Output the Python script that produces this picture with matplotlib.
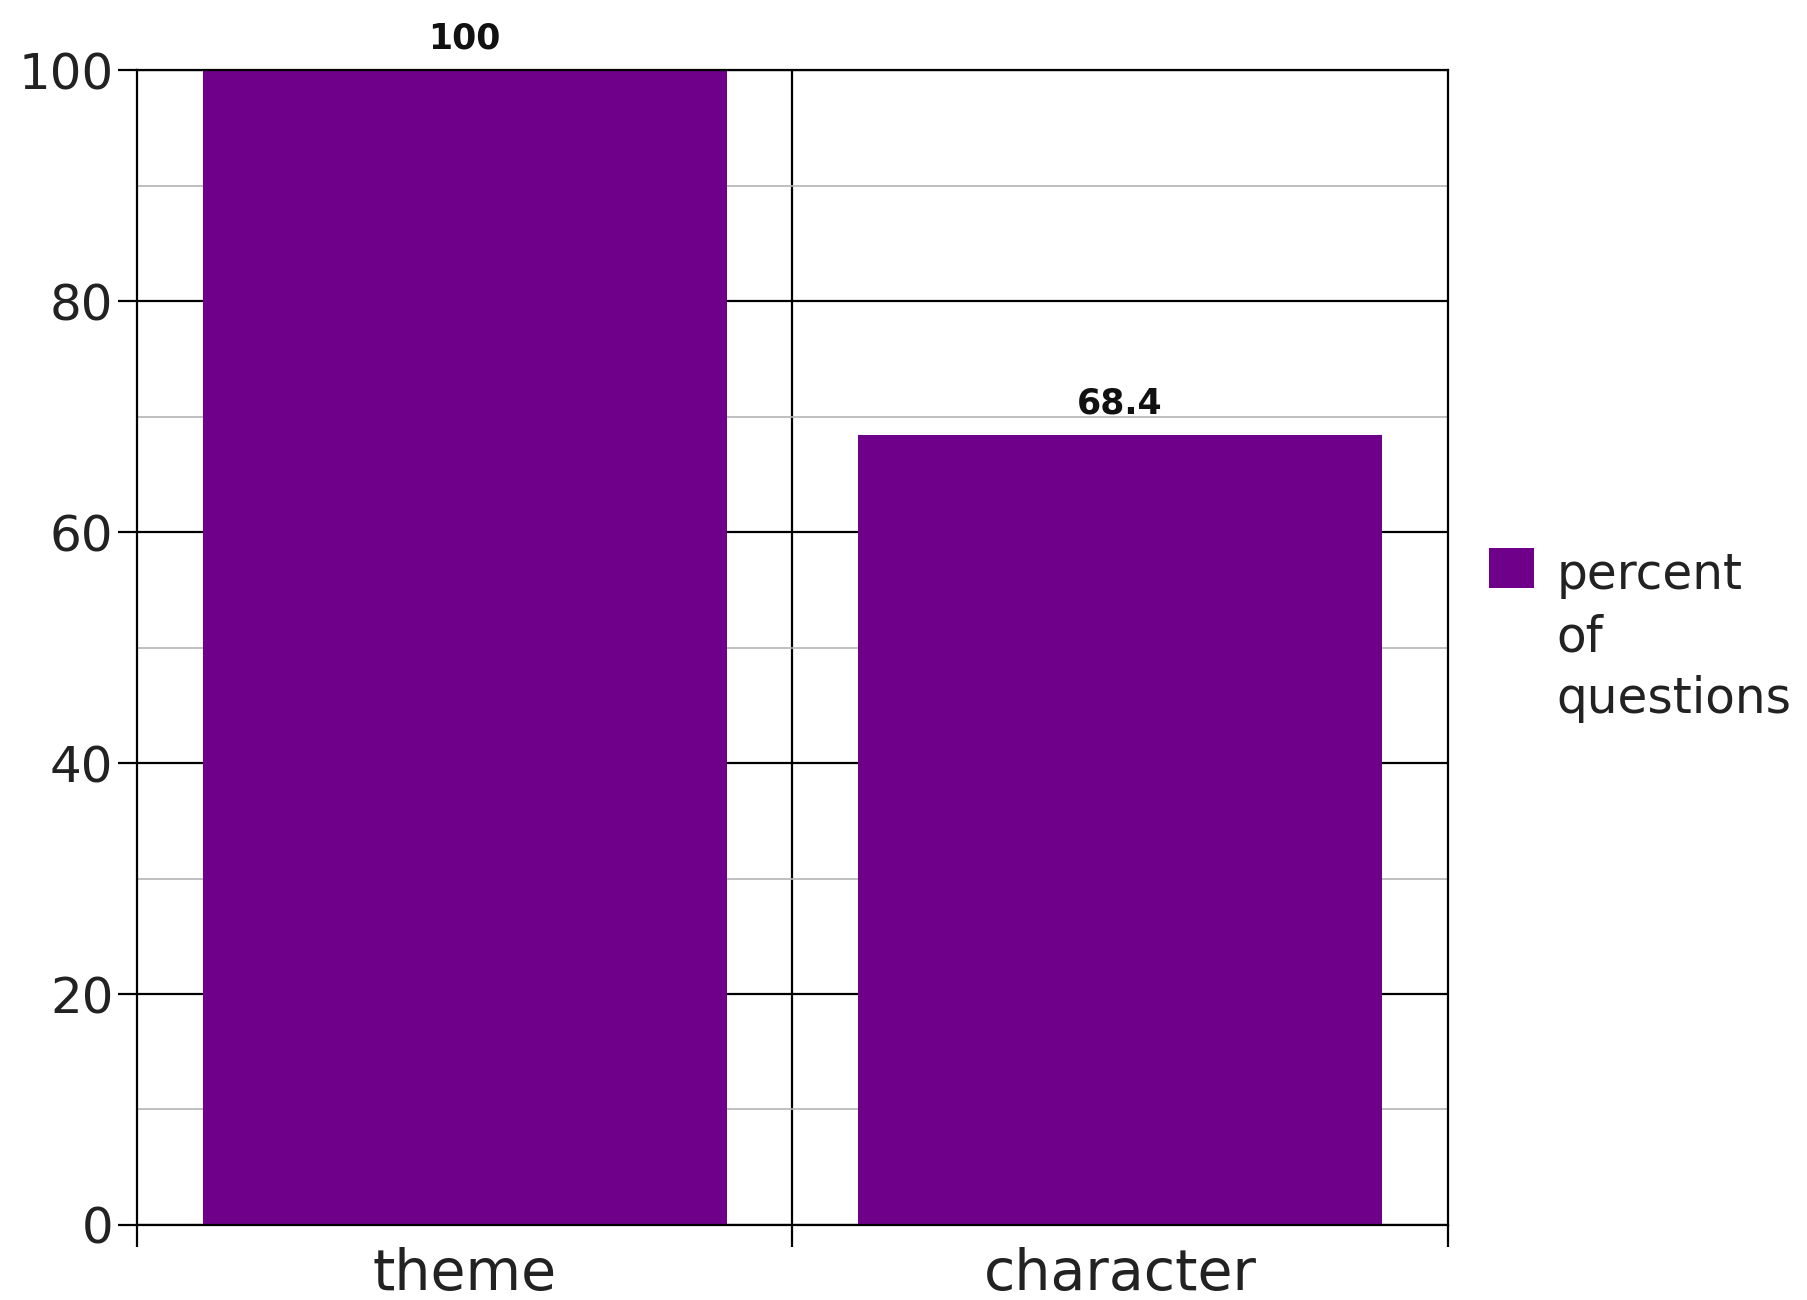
import numpy as np
import matplotlib.pyplot as plt
from matplotlib.patches import Rectangle

categories = ['theme', 'character']
percent_of_questions = [100, 68.4]
value_labels = ['100', '68.4']
y_ticks = [0, 20, 40, 60, 80, 100]
series_name = 'percent\nof\nquestions'

bar_color = '#6e008a'

plt.rcParams['font.family'] = ['DejaVu Sans']

fig = plt.figure(figsize=(18.08, 13), dpi=100)
ax = fig.add_axes([0.0758, 0.0577, 0.7250, 0.8884])

x = np.arange(len(categories))
bars = ax.bar(x, percent_of_questions, width=0.8, color=bar_color, zorder=3)

for rect, lab in zip(bars, value_labels):
    ax.text(rect.get_x() + rect.get_width() / 2, rect.get_height() + 1.3, lab,
            ha='center', va='bottom', fontsize=25, fontweight='bold', color='#111111', zorder=4)

ax.set_xlim(-0.5, len(categories) - 0.5)
ax.set_ylim(0, 100)

# y axis: major black lines every 20, grey minor lines every 10
ax.set_yticks(y_ticks)
ax.set_yticklabels([str(v) for v in y_ticks], fontsize=36, color='#222222')
ax.set_yticks(np.arange(10, 100, 20), minor=True)
ax.grid(axis='y', which='major', color='black', linewidth=1.6, zorder=1)
ax.grid(axis='y', which='minor', color='#b4b4b4', linewidth=1.2, zorder=1)
ax.tick_params(axis='y', which='major', length=14, width=1.6, pad=3)
ax.tick_params(axis='y', which='minor', length=0)

# x axis: ticks at category boundaries, labels at centres
ax.set_xticks(np.arange(-0.5, len(categories)), minor=False)
ax.set_xticklabels([])
ax.tick_params(axis='x', which='major', length=16, width=1.6)
ax.set_xticks(x, minor=True)
ax.set_xticklabels(categories, minor=True, fontsize=41, color='#222222')
ax.tick_params(axis='x', which='minor', length=0, pad=16)
for b in np.arange(0.5, len(categories) - 0.5):
    ax.axvline(b, color='black', linewidth=1.6, zorder=1)

for s in ax.spines.values():
    s.set_color('black')
    s.set_linewidth(1.6)
    s.set_zorder(5)

# legend: square key next to the first line of a three-line label
fig.add_artist(Rectangle((0.8236, 0.5477), 0.0249, 0.0308, transform=fig.transFigure,
                         facecolor=bar_color, edgecolor='none'))
fig.text(0.861, 0.576, series_name, ha='left', va='top', fontsize=35,
         color='#222222', linespacing=1.37)

fig.savefig('out.png', dpi=100)
